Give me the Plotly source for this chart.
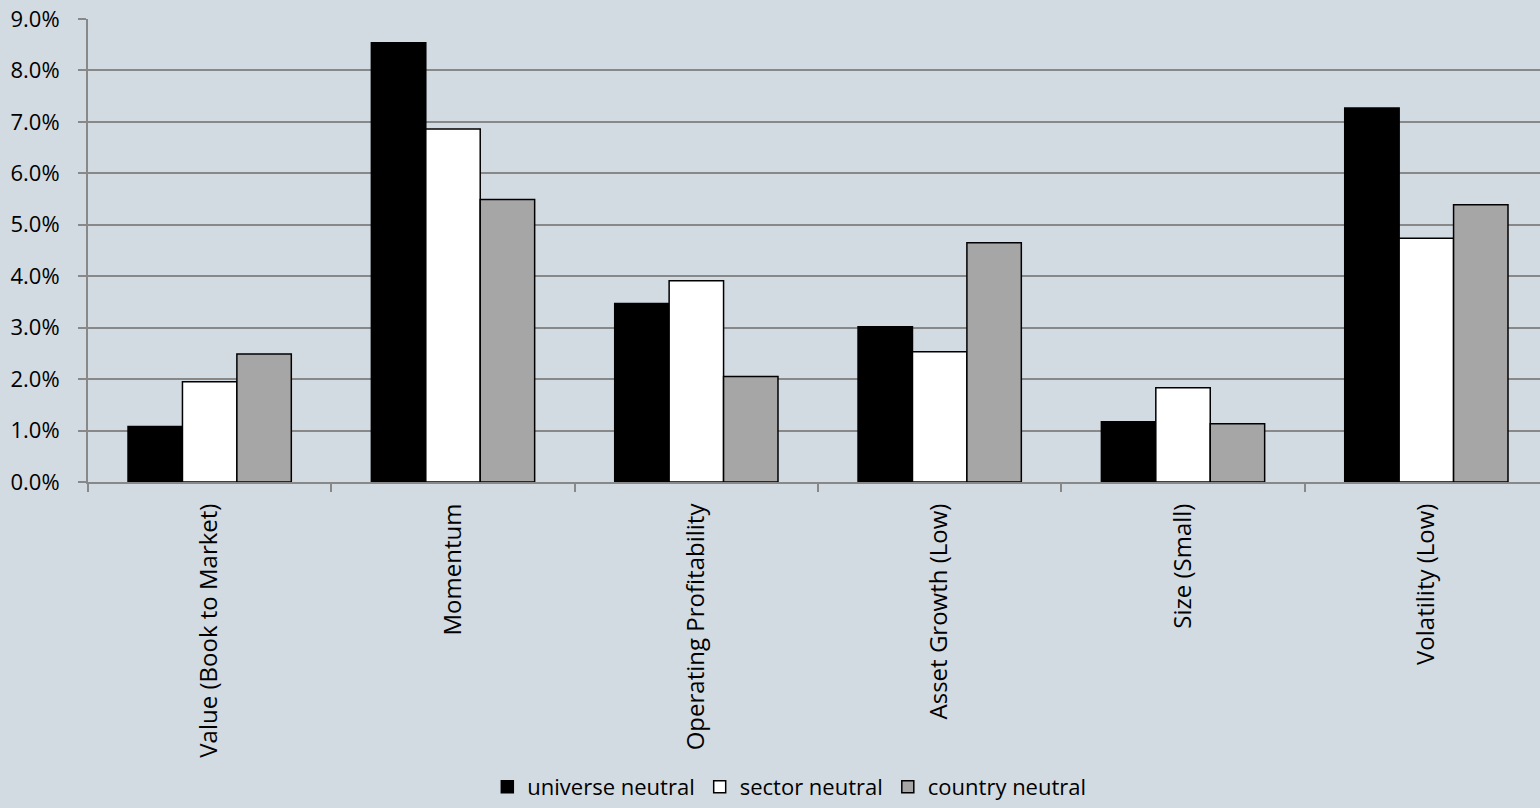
import plotly.graph_objects as go

categories = ["Value (Book to Market)", "Momentum", "Operating Profitability",
              "Asset Growth (Low)", "Size (Small)", "Volatility (Low)"]
universe_neutral = [1.08, 8.54, 3.47, 3.02, 1.17, 7.27]
sector_neutral = [1.95, 6.86, 3.91, 2.53, 1.83, 4.74]
country_neutral = [2.49, 5.49, 2.05, 4.65, 1.13, 5.39]
y_ticks = [0, 1, 2, 3, 4, 5, 6, 7, 8, 9]

BG = "#D3DBE2"
FONT = "'Open Sans', sans-serif"

fig = go.Figure()
series = [("universe neutral", universe_neutral, "#000000"),
          ("sector neutral", sector_neutral, "#FFFFFF"),
          ("country neutral", country_neutral, "#A6A6A6")]
for name, vals, col in series:
    fig.add_trace(go.Bar(
        x=categories, y=[v / 100 for v in vals], name=name,
        marker=dict(color=col, line=dict(color="#000000", width=1.5)),
    ))

fig.update_layout(
    width=1540, height=808,
    paper_bgcolor=BG, plot_bgcolor=BG,
    barmode="group", bargap=0.329, bargroupgap=0,
    margin=dict(l=88, r=0, t=19, b=325.5, autoexpand=False),
    font=dict(family=FONT, size=22, color="#000000"),
    showlegend=True,
    legend=dict(orientation="h", x=0.483, xanchor="center",
                yref="container", y=0.026, yanchor="middle",
                font=dict(family=FONT, size=22), itemwidth=30, bgcolor="rgba(0,0,0,0)",
                traceorder="normal"),
)
fig.update_xaxes(
    type="category", range=[-0.5, 5.467], automargin=False,
    tickangle=-90, tickson="boundaries", ticks="outside", ticklen=8,
    tickcolor="#888888", tickwidth=2,
    showline=True, linecolor="#888888", linewidth=2,
    showgrid=False, zeroline=False,
    tickfont=dict(family=FONT, size=24), ticklabelstandoff=10,
)
fig.update_yaxes(
    range=[0, 0.09], tickvals=[t / 100 for t in y_ticks], automargin=False,
    ticktext=[f"{t:.1f}%" for t in y_ticks],
    ticks="outside", ticklen=8, tickcolor="#888888", tickwidth=2,
    showline=True, linecolor="#888888", linewidth=2,
    showgrid=True, gridcolor="#888888", gridwidth=2,
    zeroline=False, tickfont=dict(family=FONT, size=22), ticklabelstandoff=14,
)

fig.write_html("out.html")
